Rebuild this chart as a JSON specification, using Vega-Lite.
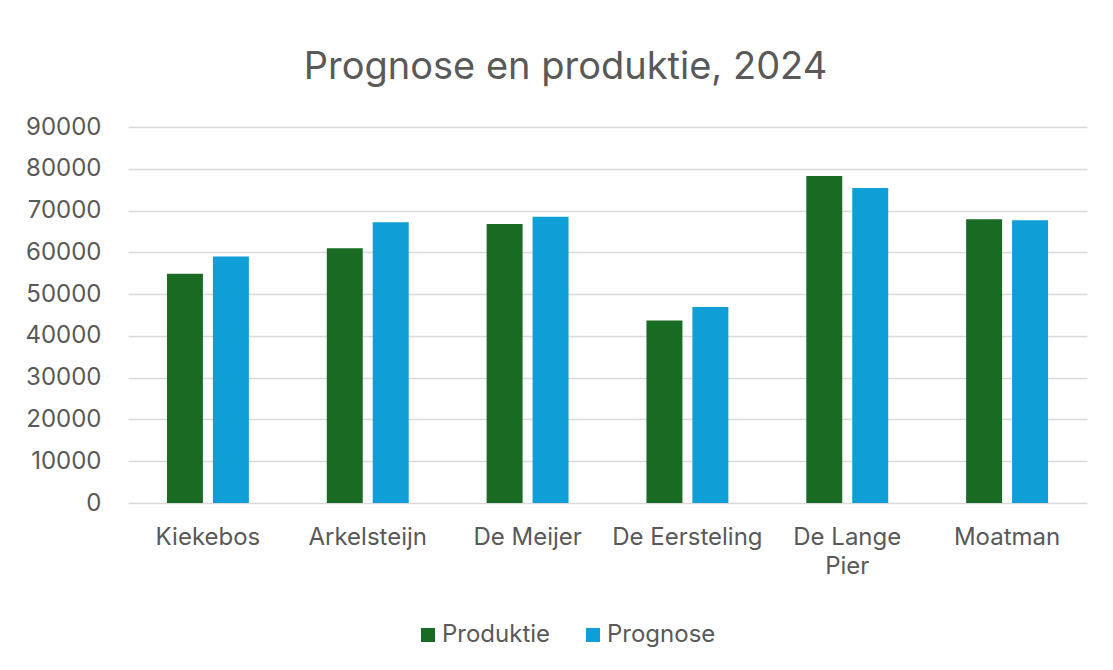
{
  "$schema": "https://vega.github.io/schema/vega-lite/v6.json",
  "width": 959,
  "height": 376,
  "autosize": {"type": "none"},
  "padding": {"left": 128, "top": 127, "right": 26, "bottom": 167},
  "background": "white",
  "config": {
    "font": "Inter",
    "view": {"stroke": null}
  },
  "title": {
    "text": "Prognose en produktie, 2024",
    "fontSize": 38,
    "fontWeight": "normal",
    "color": "#595959",
    "anchor": "middle",
    "dx": -42,
    "offset": 28
  },
  "data": {
    "values": [
      {"loc": "Kiekebos", "serie": "Produktie", "waarde": 54900},
      {"loc": "Kiekebos", "serie": "Prognose", "waarde": 59000},
      {"loc": "Arkelsteijn", "serie": "Produktie", "waarde": 61000},
      {"loc": "Arkelsteijn", "serie": "Prognose", "waarde": 67200},
      {"loc": "De Meijer", "serie": "Produktie", "waarde": 66800},
      {"loc": "De Meijer", "serie": "Prognose", "waarde": 68500},
      {"loc": "De Eersteling", "serie": "Produktie", "waarde": 43700},
      {"loc": "De Eersteling", "serie": "Prognose", "waarde": 46900},
      {"loc": "De Lange Pier", "serie": "Produktie", "waarde": 78300},
      {"loc": "De Lange Pier", "serie": "Prognose", "waarde": 75400},
      {"loc": "Moatman", "serie": "Produktie", "waarde": 67900},
      {"loc": "Moatman", "serie": "Prognose", "waarde": 67700}
    ]
  },
  "mark": {"type": "bar"},
  "encoding": {
    "x": {
      "field": "loc",
      "type": "nominal",
      "sort": null,
      "title": null,
      "scale": {"paddingInner": 0.4875, "paddingOuter": 0.24375},
      "axis": {
        "labelAngle": 0,
        "labelFontSize": 24,
        "labelColor": "#595959",
        "labelPadding": 22,
        "labelLineHeight": 29,
        "ticks": false,
        "domain": false,
        "labelExpr": "datum.label == 'De Lange Pier' ? ['De Lange', 'Pier'] : datum.label"
      }
    },
    "xOffset": {
      "field": "serie",
      "type": "nominal",
      "sort": ["Produktie", "Prognose"],
      "scale": {"paddingInner": 0.217, "paddingOuter": 0}
    },
    "y": {
      "field": "waarde",
      "type": "quantitative",
      "title": null,
      "scale": {"domain": [0, 90000]},
      "axis": {
        "values": [0, 10000, 20000, 30000, 40000, 50000, 60000, 70000, 80000, 90000],
        "format": "d",
        "labelFontSize": 24,
        "labelColor": "#595959",
        "labelPadding": 27,
        "ticks": false,
        "domain": false,
        "gridColor": "#d9d9d9",
        "gridWidth": 1.5
      }
    },
    "color": {
      "field": "serie",
      "type": "nominal",
      "sort": ["Produktie", "Prognose"],
      "scale": {"domain": ["Produktie", "Prognose"], "range": ["#196B24", "#0F9ED5"]},
      "legend": {
        "title": null,
        "orient": "none",
        "direction": "horizontal",
        "legendX": 288,
        "legendY": 496,
        "symbolType": "square",
        "symbolSize": 196,
        "symbolStrokeWidth": 0,
        "labelFontSize": 24,
        "labelColor": "#595959",
        "labelOffset": 2,
        "columnPadding": 30
      }
    }
  }
}
